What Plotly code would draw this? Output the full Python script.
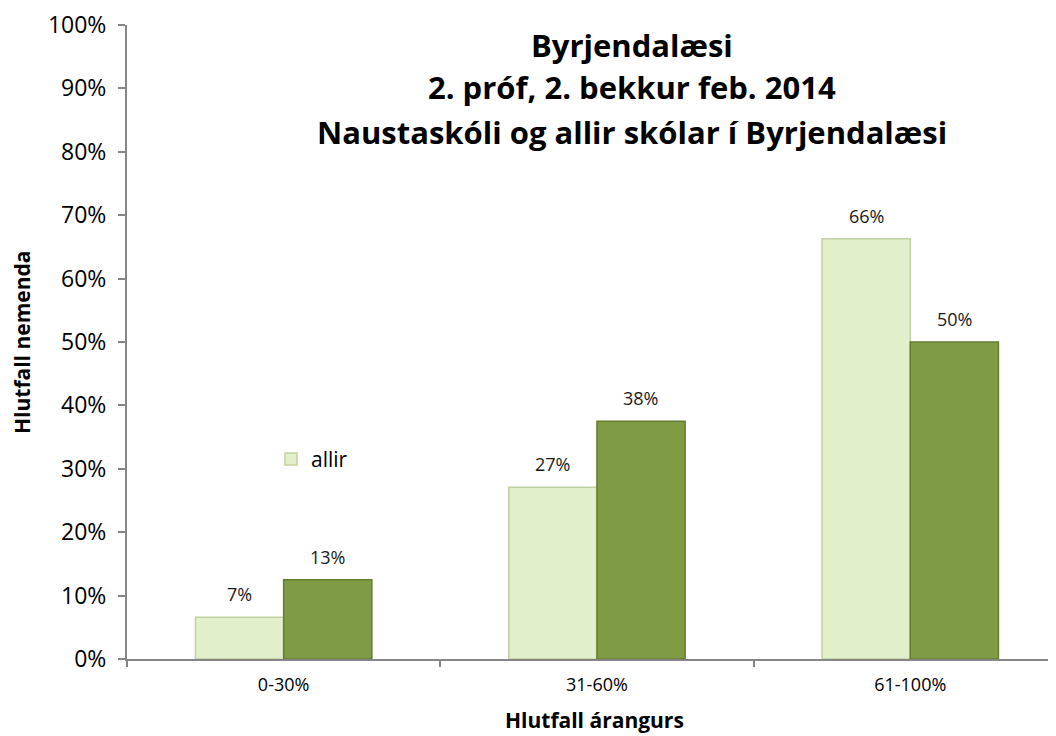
import plotly.graph_objects as go

categories = ["0-30%", "31-60%", "61-100%"]
allir = [0.066, 0.271, 0.663]
naustaskoli = [0.125, 0.375, 0.500]
title_lines = ["Byrjendalæsi", "2. próf, 2. bekkur feb. 2014", "Naustaskóli og allir skólar í Byrjendalæsi"]
y_ticks = [i / 10 for i in range(11)]

FONT = "Open Sans"
OFF = 8  # page body margin
W, H = 1056 - OFF, 736 - OFF
ML, MR, MT = 127 - OFF, 0, 21 - OFF
plot_h = 638
MB = H - MT - plot_h
plot_w = W - ML - MR
cat_px = 313.3
bar_px = 88


def px_x(x):
    return (x - OFF - ML) / plot_w


def px_y(y):
    return (MT + plot_h - (y - OFF)) / plot_h


fig = go.Figure()
fig.add_trace(go.Bar(
    x=categories, y=allir, name="allir",
    marker=dict(color="#E2EFCB", line=dict(color="#C2D1A2", width=1.5)),
    showlegend=True,
))
fig.add_trace(go.Bar(
    x=categories, y=naustaskoli, name="Naustaskóli",
    marker=dict(color="#7F9C45", line=dict(color="#647D31", width=1.5)),
    showlegend=False,
))

annotations = []
for series, shift in ((allir, -bar_px / 2), (naustaskoli, bar_px / 2)):
    for c, v in zip(categories, series):
        annotations.append(dict(
            x=c, y=v, xref="x", yref="y", text=f"{round(v * 100 + 1e-9):.0f}%",
            showarrow=False, xshift=shift, yshift=9, yanchor="bottom",
            font=dict(family=FONT, size=18, color="#1a1a1a"),
        ))

title_px = [41, 83, 129]
for line, py in zip(title_lines, title_px):
    annotations.append(dict(
        x=px_x(632), y=px_y(py), xref="paper", yref="paper",
        text=f"<b>{line}</b>", showarrow=False, xanchor="center", yanchor="middle",
        font=dict(family=FONT, size=31, color="#000000"),
    ))

annotations.append(dict(
    x=px_x(22), y=px_y(340), xref="paper", yref="paper",
    text="<b>Hlutfall nemenda</b>", textangle=-90, showarrow=False,
    xanchor="center", yanchor="middle",
    font=dict(family=FONT, size=21, color="#000000"),
))
annotations.append(dict(
    x=px_x(594), y=px_y(720), xref="paper", yref="paper",
    text="<b>Hlutfall árangurs</b>", showarrow=False,
    xanchor="center", yanchor="middle",
    font=dict(family=FONT, size=21, color="#000000"),
))

right_cat = -0.5 + plot_w / cat_px

fig.update_layout(
    width=W, height=H,
    margin=dict(l=ML, r=MR, t=MT, b=MB, pad=0),
    paper_bgcolor="white", plot_bgcolor="white",
    barmode="group", bargap=0.437, bargroupgap=0,
    font=dict(family=FONT, color="#000000"),
    annotations=annotations,
    legend=dict(
        x=px_x(271), y=px_y(458), xanchor="left", yanchor="middle",
        bgcolor="rgba(0,0,0,0)", font=dict(family=FONT, size=21),
        itemwidth=30, tracegroupgap=0,
    ),
    xaxis=dict(
        type="category", range=[-0.5, right_cat],
        showline=True, linecolor="#868686", linewidth=2,
        ticks="outside", tickson="boundaries", ticklen=6, tickcolor="#868686", tickwidth=2,
        tickfont=dict(family=FONT, size=18), showgrid=False, zeroline=False,
        ticklabelstandoff=8,
    ),
    yaxis=dict(
        range=[0, 1], tickvals=y_ticks, tickformat=".0%",
        showline=True, linecolor="#868686", linewidth=2,
        ticks="outside", ticklen=7, tickcolor="#868686", tickwidth=2,
        tickfont=dict(family=FONT, size=23), showgrid=False, zeroline=False,
        ticklabelstandoff=7, ticklabeloverflow="allow",
    ),
)

fig.write_html("out.html")
